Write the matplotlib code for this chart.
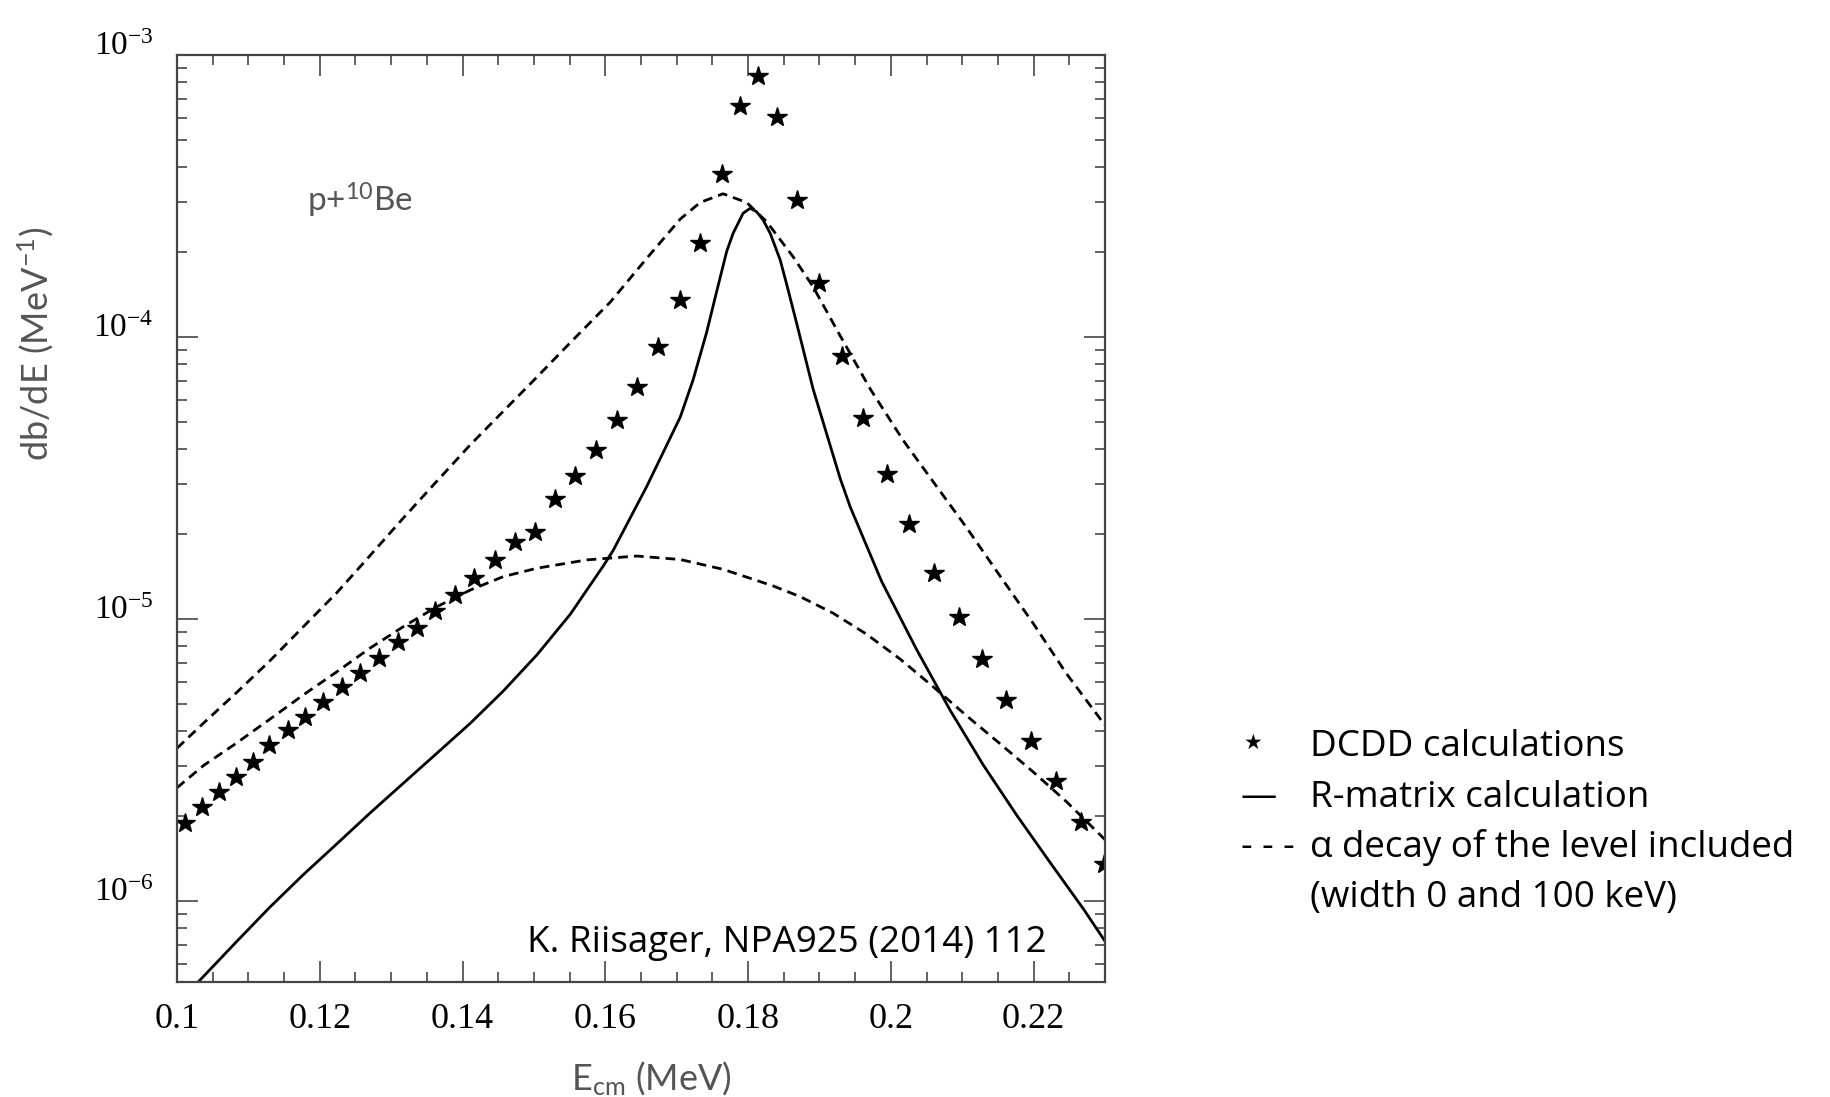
import numpy as np
import matplotlib
matplotlib.use('Agg')
import matplotlib.pyplot as plt
from matplotlib.ticker import MultipleLocator, LogLocator, FuncFormatter, NullFormatter

# DCDD calculations (stars)
stars_e = [0.1011, 0.1035, 0.1059, 0.1083, 0.1107, 0.1129, 0.1155, 0.1180, 0.1205, 0.1231,
           0.1256, 0.1283, 0.1309, 0.1336, 0.1362, 0.1389, 0.1416, 0.1445, 0.1473, 0.1501,
           0.1530, 0.1558, 0.1587, 0.1616, 0.1645, 0.1674, 0.1704, 0.1733, 0.1763, 0.1789,
           0.1814, 0.1841, 0.1869, 0.1900, 0.1931, 0.1961, 0.1995, 0.2026, 0.2060, 0.2095,
           0.2128, 0.2162, 0.2196, 0.2231, 0.2266, 0.2299]
stars_db = [1.89e-6, 2.15e-6, 2.43e-6, 2.75e-6, 3.11e-6, 3.57e-6, 4.04e-6, 4.50e-6, 5.06e-6, 5.73e-6,
            6.45e-6, 7.26e-6, 8.31e-6, 9.31e-6, 1.068e-5, 1.217e-5, 1.401e-5, 1.619e-5, 1.879e-5, 2.04e-5,
            2.665e-5, 3.214e-5, 3.974e-5, 5.065e-5, 6.66e-5, 9.20e-5, 1.353e-4, 2.149e-4, 3.794e-4, 6.594e-4,
            8.42e-4, 6.04e-4, 3.068e-4, 1.554e-4, 8.56e-5, 5.148e-5, 3.268e-5, 2.172e-5, 1.453e-5, 1.019e-5,
            7.21e-6, 5.14e-6, 3.693e-6, 2.663e-6, 1.912e-6, 1.353e-6]

# R-matrix calculation (solid)
rmat_e = [0.1030, 0.1084, 0.1130, 0.1177, 0.1224, 0.1270, 0.1317, 0.1364, 0.1411, 0.1457,
          0.1504, 0.1551, 0.1597, 0.1611, 0.1658, 0.1705, 0.1723, 0.1742, 0.1756, 0.1770,
          0.1779, 0.1793, 0.1803, 0.1812, 0.1821, 0.1831, 0.1845, 0.1854, 0.1868, 0.1891,
          0.1929, 0.1943, 0.1987, 0.2036, 0.2083, 0.2130, 0.2176, 0.2223, 0.2270, 0.2300]
rmat_db = [5.17e-7, 7.20e-7, 9.50e-7, 1.24e-6, 1.595e-6, 2.046e-6, 2.615e-6, 3.34e-6, 4.27e-6, 5.55e-6,
           7.45e-6, 1.04e-5, 1.54e-5, 1.75e-5, 2.95e-5, 5.20e-5, 7.05e-5, 1.04e-4, 1.45e-4, 2.01e-4,
           2.33e-4, 2.746e-4, 2.86e-4, 2.781e-4, 2.60e-4, 2.332e-4, 1.875e-4, 1.54e-4, 1.12e-4, 6.55e-5,
           3.15e-5, 2.50e-5, 1.36e-5, 7.80e-6, 4.75e-6, 3.02e-6, 2.02e-6, 1.37e-6, 9.35e-7, 7.20e-7]

# alpha decay included, width 0 (dashed, narrow)
alpha0_e = [0.1000, 0.1037, 0.1084, 0.1130, 0.1177, 0.1224, 0.1266, 0.1317, 0.1364, 0.1411,
            0.1457, 0.1504, 0.1551, 0.1607, 0.1658, 0.1705, 0.1733, 0.1765, 0.1798, 0.1826,
            0.1863, 0.1891, 0.1929, 0.1971, 0.2017, 0.2060, 0.2106, 0.2153, 0.2200, 0.2246, 0.2300]
alpha0_db = [3.48e-6, 4.27e-6, 5.50e-6, 7.10e-6, 9.39e-6, 1.24e-5, 1.63e-5, 2.28e-5, 3.08e-5, 4.15e-5,
             5.45e-5, 7.20e-5, 9.55e-5, 1.33e-4, 1.90e-4, 2.62e-4, 3.00e-4, 3.22e-4, 3.00e-4, 2.564e-4,
             1.927e-4, 1.508e-4, 1.010e-4, 6.55e-5, 4.31e-5, 3.05e-5, 2.11e-5, 1.42e-5, 9.60e-6, 6.40e-6, 4.20e-6]

# alpha decay included, width 100 keV (dashed, broad)
alpha100_e = [0.1000, 0.1037, 0.1084, 0.1130, 0.1177, 0.1224, 0.1270, 0.1317, 0.1364, 0.1411,
              0.1457, 0.1504, 0.1574, 0.1644, 0.1705, 0.1765, 0.1835, 0.1873, 0.1919, 0.1966,
              0.2013, 0.2060, 0.2106, 0.2153, 0.2200, 0.2246, 0.2300]
alpha100_db = [2.52e-6, 3.02e-6, 3.64e-6, 4.41e-6, 5.38e-6, 6.50e-6, 7.87e-6, 9.39e-6, 1.105e-5, 1.267e-5,
               1.413e-5, 1.513e-5, 1.62e-5, 1.672e-5, 1.625e-5, 1.50e-5, 1.310e-5, 1.20e-5, 1.049e-5, 8.83e-6,
               7.21e-6, 5.73e-6, 4.54e-6, 3.61e-6, 2.86e-6, 2.25e-6, 1.65e-6]

leg_symbols = ['\u2605', '\u2014', '- - -', '']
leg_labels = ['DCDD calculations', 'R-matrix calculation',
              '\u03b1 decay of the level included', '(width 0 and 100 keV)']

W, H = 1830, 1097
fig = plt.figure(figsize=(W / 100, H / 100), dpi=100)
ax = fig.add_axes([177 / W, 1 - 982 / H, 928 / W, (982 - 55) / H])

dash = (0, (3.5, 2.2))
ax.plot(alpha0_e, alpha0_db, color='black', lw=2, ls=dash)
ax.plot(alpha100_e, alpha100_db, color='black', lw=2, ls=dash)
ax.plot(rmat_e, rmat_db, color='black', lw=2)
ax.plot(stars_e, stars_db, ls='none', marker='*', ms=14.5, color='black')

ax.set_yscale('log')
ax.set_xlim(0.1, 0.23)
ax.set_ylim(5.16e-7, 1e-3)

ax.xaxis.set_major_locator(MultipleLocator(0.02))
ax.xaxis.set_minor_locator(MultipleLocator(0.005))
ax.xaxis.set_major_formatter(FuncFormatter(lambda v, p: f'{v:g}'))
ax.yaxis.set_major_locator(LogLocator(base=10, numticks=10))
ax.yaxis.set_minor_locator(LogLocator(base=10, subs=np.arange(2, 10), numticks=20))
ax.yaxis.set_minor_formatter(NullFormatter())
ax.yaxis.set_major_formatter(FuncFormatter(lambda v, p: r'$\mathregular{10^{%d}}$' % round(np.log10(v))))

ax.tick_params(which='both', direction='in', top=True, right=True, color='#555555', width=1.3,
               labelcolor='black', labelfontfamily='Liberation Serif')
ax.tick_params(which='major', length=15)
ax.tick_params(which='minor', length=7.5)
ax.tick_params(axis='x', pad=15, labelsize=26)
ax.tick_params(axis='y', pad=17, labelsize=24)
for t in ax.yaxis.get_major_ticks():
    t.label1.set_verticalalignment('baseline')
for s in ax.spines.values():
    s.set_color('#444444')
    s.set_linewidth(1.6)

light = dict(family='Lato', color='#555555')
fig.text(36 / W, 1 - 344 / H, r'db/dE (MeV$\mathregular{^{-1}}$)', rotation=90,
         ha='center', va='center', fontsize=26, **light)
fig.text(651 / W, 1 - 1090 / H, r'E$\mathregular{_{cm}}$ (MeV)', ha='center', va='baseline',
         fontsize=26, **light)
fig.text(307 / W, 1 - 212 / H, r'p+$\mathregular{^{10}}$Be', ha='left', va='baseline',
         fontsize=24, **light)

fig.text(1047 / W, 1 - 952 / H, 'K. Riisager, NPA925 (2014) 112', ha='right', va='baseline',
         fontsize=26.5, family='Open Sans', color='black')

# legend drawn as text, like the original slide
baselines = [756, 806.7, 856.7, 906.7]
for sym, lab, yb in zip(leg_symbols, leg_labels, baselines):
    if sym == '\u2605':
        fig.text(1253 / W, 1 - 743 / H, sym, ha='center', va='center', fontsize=15,
                 family='DejaVu Sans', color='black')
    elif sym:
        fig.text(1241 / W, 1 - yb / H, sym, ha='left', va='baseline', fontsize=26,
                 family='Open Sans', color='black')
    fig.text(1310 / W, 1 - yb / H, lab, ha='left', va='baseline', fontsize=26.5,
             family='Open Sans', color='black')

fig.savefig('out.png', dpi=100)
